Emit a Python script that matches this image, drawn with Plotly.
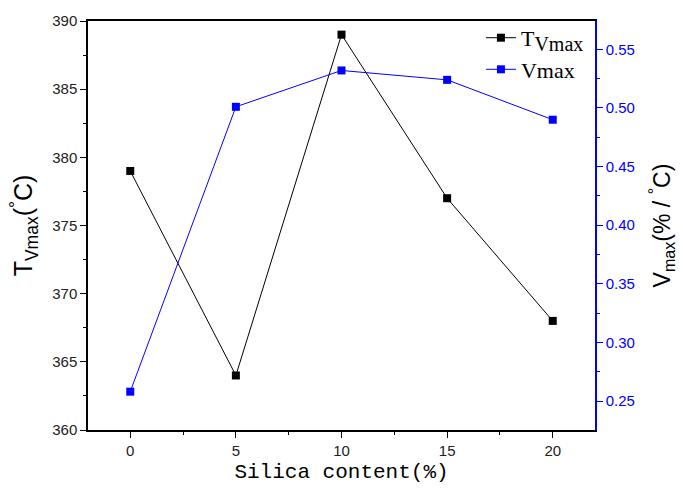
import plotly.graph_objects as go

silica = [0, 5, 10, 15, 20]
t_vmax = [379, 364, 389, 377, 368]
v_max = [0.258, 0.501, 0.532, 0.524, 0.490]

fig = go.Figure()
fig.add_trace(go.Scatter(
    x=silica, y=t_vmax, mode="lines+markers",
    name="T<sub><span style='font-size:20px'>Vmax</span></sub>",
    line=dict(color="black", width=1),
    marker=dict(symbol="square", size=8, color="black"),
    yaxis="y",
))
fig.add_trace(go.Scatter(
    x=silica, y=v_max, mode="lines+markers", name="Vmax",
    line=dict(color="#0000ff", width=1),
    marker=dict(symbol="square", size=8, color="#0000ff"),
    yaxis="y2",
))

tick_font = dict(family="Liberation Sans, Arial", size=15, color="#222222")

fig.update_layout(
    width=683, height=491,
    margin=dict(l=88, r=87, t=18, b=59),
    paper_bgcolor="white", plot_bgcolor="white",
    showlegend=True,
    legend=dict(
        x=0.775, y=1.01, xanchor="left", yanchor="top",
        bgcolor="rgba(0,0,0,0)",
        font=dict(family="Liberation Serif, Times New Roman", size=22, color="black"),
        itemwidth=30, tracegroupgap=0,
    ),
    xaxis=dict(
        range=[-2, 22], tickvals=[0, 5, 10, 15, 20],
        showgrid=False, zeroline=False,
        showline=True, linecolor="black", linewidth=1.5, mirror=True,
        ticks="outside", ticklen=6, tickcolor="black",
        minor=dict(ticks="outside", ticklen=3, dtick=2.5, tick0=0, tickcolor="black"),
        tickfont=tick_font,
        title=dict(text="Silica content(%)",
                   font=dict(family="Liberation Mono, DejaVu Sans Mono", size=21, color="black"),
                   standoff=6),
    ),
    yaxis=dict(
        range=[360, 390], tickvals=[360, 365, 370, 375, 380, 385, 390],
        showgrid=False, zeroline=False,
        showline=True, linecolor="black", linewidth=1.5,
        ticks="outside", ticklen=6, tickcolor="black",
        minor=dict(ticks="outside", ticklen=3, dtick=2.5, tick0=360, tickcolor="black"),
        tickfont=tick_font,
        title=dict(text="T<sub>Vmax</sub>(<sup>°</sup>C)",
                   font=dict(family="Liberation Sans, Arial", size=25, color="black"),
                   standoff=12),
    ),
    yaxis2=dict(
        overlaying="y", side="right",
        range=[0.2253, 0.5742], tickvals=[0.25, 0.30, 0.35, 0.40, 0.45, 0.50, 0.55],
        tickformat=".2f",
        showgrid=False, zeroline=False,
        showline=True, linecolor="#0000ff", linewidth=1.5,
        ticks="outside", ticklen=6, tickcolor="#0000ff",
        minor=dict(ticks="outside", ticklen=3, dtick=0.025, tick0=0.25, tickcolor="#0000ff"),
        tickfont=dict(family="Liberation Sans, Arial", size=15, color="#0000ff"),
        title=dict(text="V<sub>max</sub>(% / <sup>°</sup>C)",
                   font=dict(family="Liberation Sans, Arial", size=23, color="black"),
                   standoff=20),
    ),
)

fig.write_html("out.html")
